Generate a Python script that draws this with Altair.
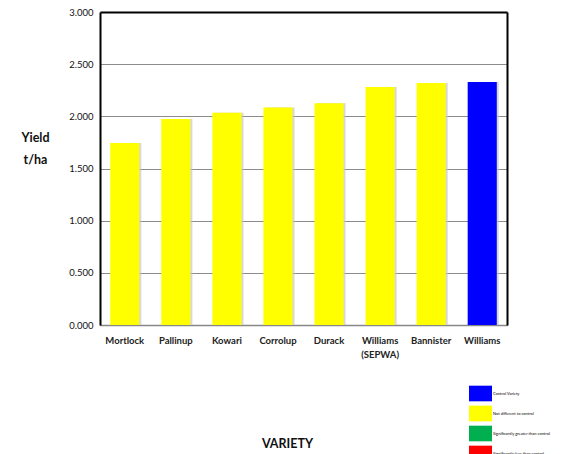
import altair as alt
import pandas as pd

varieties = ["Mortlock", "Pallinup", "Kowari", "Corrolup", "Durack", "Williams\n(SEPWA)", "Bannister", "Williams"]
yields = [1.745, 1.975, 2.035, 2.085, 2.125, 2.28, 2.32, 2.33]
status = ["Not different to control"] * 7 + ["Control Variety"]

legend_labels = ["Control Variety", "Not different to control",
                 "Significantly greater than control", "Significantly less than control"]
legend_colors = ["#0000ff", "#ffff00", "#00b050", "#ff0000"]
y_ticks = [0, 0.5, 1.0, 1.5, 2.0, 2.5, 3.0]

df = pd.DataFrame({"Variety": varieties, "Yield": yields, "Status": status})

FONT = "Lato"

x_enc = alt.X("Variety:N", sort=varieties,
              scale=alt.Scale(paddingInner=0.43, paddingOuter=0.2),
              axis=alt.Axis(title="VARIETY", labelAngle=0, ticks=False, domainColor="#888888",
                            domainWidth=1.5, labelFont=FONT, labelFontWeight="bold", labelFontSize=9.5,
                            labelColor="#222222", labelPadding=10, labelLineHeight=14,
                            labelExpr="split(datum.label, '\\n')",
                            titleFont=FONT, titleFontWeight="bold", titleFontSize=12.5,
                            titleColor="#111111", titleX=187, titleY=118, titleBaseline="middle",
                            titleAnchor="start", titleAlign="center", labelLimit=200))

y_scale = alt.Scale(domain=[0, 3], nice=False)

y_left = alt.Y("Yield:Q", scale=y_scale,
               axis=alt.Axis(orient="left", grid=True,
                             title=["Yield", "t/ha"], values=y_ticks, format=".3f", ticks=False,
                             domainColor="#000000", domainWidth=2,
                             gridColor={"condition": {"test": "datum.value >= 3", "value": "#000000"},
                                        "value": "#8c8c8c"},
                             gridWidth={"condition": {"test": "datum.value >= 3", "value": 2},
                                        "value": 1},
                             labelFont=FONT, labelFontSize=9.5, labelColor="#111111", labelPadding=7,
                             titleFont=FONT, titleFontWeight="bold", titleFontSize=12.5,
                             titleColor="#111111", titleAngle=0, titleX=-65, titleY=125,
                             titleAlign="center", titleBaseline="middle", titleLineHeight=22))

y_right = alt.Y("Yield:Q", scale=y_scale,
                axis=alt.Axis(orient="right", title=None, labels=False, ticks=False, grid=False,
                              domainColor="#000000", domainWidth=2))

base = alt.Chart(df)

shadow = base.mark_bar(color="#c8c8c8", xOffset=2, opacity=0.7).encode(x=x_enc, y=y_right)

bars = base.mark_bar().encode(
    x=x_enc, y=y_left,
    color=alt.Color("Status:N",
                    scale=alt.Scale(domain=legend_labels, range=legend_colors),
                    legend=alt.Legend(title=None, orient="none", legendX=369, legendY=370,
                                      symbolType="M-1,-0.68H1V0.68H-1Z", symbolSize=529,
                                      symbolStrokeWidth=0, symbolOpacity=1,
                                      labelFont=FONT, labelFontSize=4, labelColor="#000000",
                                      labelOffset=1, rowPadding=0, padding=0, offset=0,
                                      labelLimit=200)),
)

chart = alt.layer(shadow, bars).resolve_axis(y="independent").properties(
    width=407, height=313,
    autosize=alt.AutoSizeParams(type="none"),
    padding={"left": 92, "top": 4, "right": 48, "bottom": 129},
).configure_view(stroke="#000000", strokeWidth=2).configure(background="white")

chart.save("out.html", embed_options={"renderer": "svg", "actions": False})
